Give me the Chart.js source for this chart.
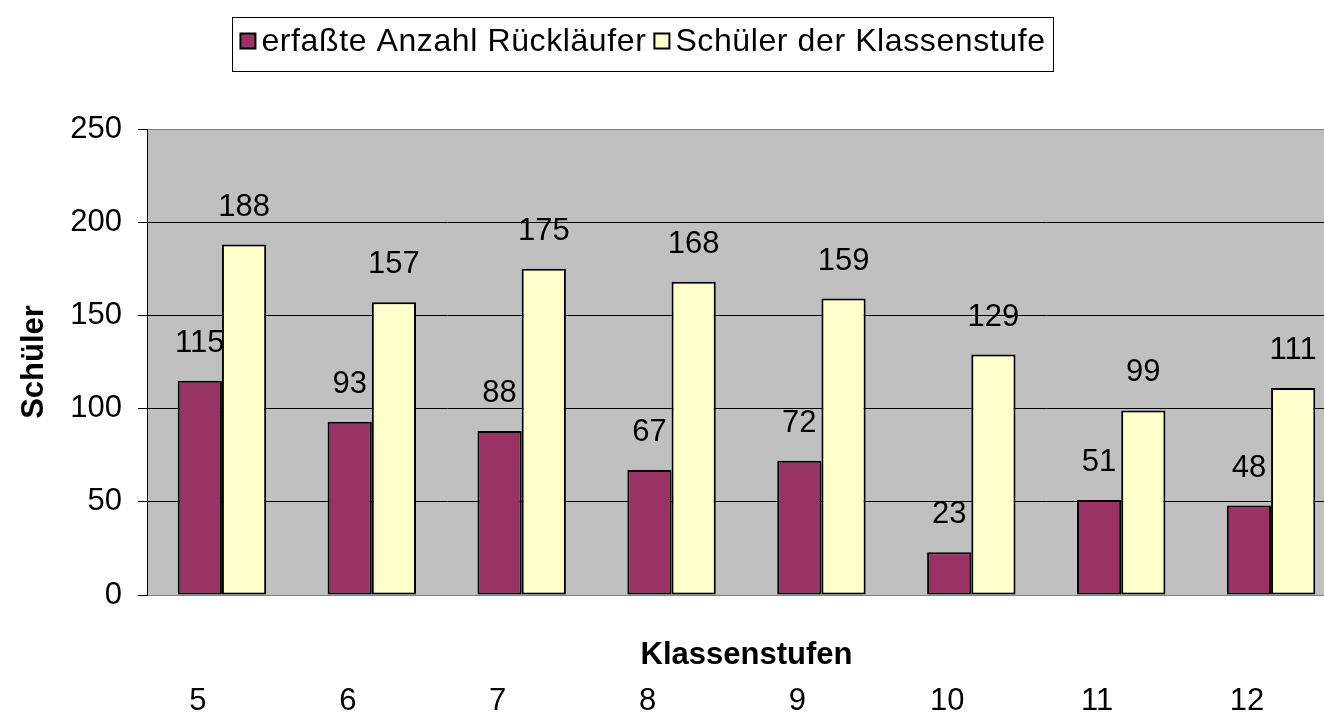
<!DOCTYPE html>
<html lang="de">
<head>
    <meta charset="UTF-8">
    <title>Rückläufer je Klassenstufe</title>
    <script src="https://cdn.jsdelivr.net/npm/chart.js"></script>
    <style>
        * {
            margin: 0;
            padding: 0;
            box-sizing: border-box;
        }

        body {
            background: #fff;
            overflow: hidden;
            width: 1324px;
            height: 717px;
        }

        canvas {
            display: block;
        }
    </style>
</head>
<body>
    <canvas id="chart" width="1346" height="717"></canvas>

    <script>
        // Data
        const klassenstufen = ['5', '6', '7', '8', '9', '10', '11', '12'];
        const ruecklaeufer = [115, 93, 88, 67, 72, 23, 51, 48];
        const schueler = [188, 157, 175, 168, 159, 129, 99, 111];
        const yTicks = [0, 50, 100, 150, 200, 250];

        const seriesNames = ['erfaßte Anzahl Rückläufer', 'Schüler der Klassenstufe'];
        const seriesColors = ['#993366', '#FFFFCC'];

        const FONT = '"Liberation Sans", Arial, sans-serif';

        // Grey plot area like the old Excel charts
        const plotBackground = {
            id: 'plotBackground',
            beforeDraw(chart) {
                const { ctx, chartArea: a } = chart;
                ctx.save();
                ctx.fillStyle = '#C0C0C0';
                ctx.fillRect(a.left, a.top, a.right - a.left, a.bottom - a.top);
                ctx.strokeStyle = '#808080';
                ctx.lineWidth = 1;
                ctx.strokeRect(a.left + 0.5, a.top + 0.5, a.right - a.left, a.bottom - a.top);
                ctx.restore();
            }
        };

        // Value labels above the bars
        function drawValues(chart, index) {
            const ctx = chart.ctx;
            const meta = chart.getDatasetMeta(index);
            const values = chart.data.datasets[index].data;
            ctx.save();
            ctx.font = '31px ' + FONT;
            ctx.fillStyle = '#000';
            ctx.textAlign = 'center';
            ctx.textBaseline = 'alphabetic';
            meta.data.forEach((bar, i) => {
                ctx.fillText(String(values[i]), bar.x, bar.y - 29);
            });
            ctx.restore();
        }

        const valueLabels = {
            id: 'valueLabels',
            // first series labels sit behind the neighbouring bars
            beforeDatasetsDraw(chart) {
                drawValues(chart, 0);
            },
            afterDatasetsDraw(chart) {
                drawValues(chart, 1);
            }
        };

        // Boxed legend at the top
        const boxLegend = {
            id: 'boxLegend',
            afterDraw(chart) {
                const ctx = chart.ctx;
                const sw = 15, gapText = 6, gapItem = 8, pad = 8;
                ctx.save();
                ctx.font = '32px ' + FONT;
                ctx.letterSpacing = '0.6px';
                const widths = seriesNames.map(n => ctx.measureText(n).width);
                let total = 0;
                widths.forEach((w, i) => {
                    total += sw + gapText + w + (i < widths.length - 1 ? gapItem : 0);
                });
                const boxW = total + pad * 2;
                const left = 643 - boxW / 2;
                const top = 17, height = 54;

                ctx.strokeStyle = '#000';
                ctx.lineWidth = 1;
                ctx.strokeRect(Math.round(left) + 0.5, top + 0.5, Math.round(boxW), height);

                let x = left + pad;
                const cy = 41;
                ctx.textBaseline = 'middle';
                ctx.textAlign = 'left';
                seriesNames.forEach((name, i) => {
                    ctx.fillStyle = seriesColors[i];
                    ctx.fillRect(x, cy - sw / 2, sw, sw);
                    ctx.lineWidth = 2;
                    ctx.strokeRect(x, cy - sw / 2, sw, sw);
                    x += sw + gapText;
                    ctx.fillStyle = '#000';
                    ctx.fillText(name, x, cy + 1);
                    x += widths[i] + gapItem;
                });
                ctx.restore();
            }
        };

        const ctx = document.getElementById('chart').getContext('2d');

        new Chart(ctx, {
            type: 'bar',
            data: {
                labels: klassenstufen,
                datasets: [
                    {
                        label: seriesNames[0],
                        data: ruecklaeufer,
                        backgroundColor: seriesColors[0],
                        borderColor: '#000',
                        borderWidth: 2,
                        borderSkipped: false
                    },
                    {
                        label: seriesNames[1],
                        data: schueler,
                        backgroundColor: seriesColors[1],
                        borderColor: '#000',
                        borderWidth: 2,
                        borderSkipped: false
                    }
                ]
            },
            options: {
                responsive: false,
                animation: false,
                devicePixelRatio: 1,
                layout: {
                    padding: { top: 129, left: 0, right: 0, bottom: 0 }
                },
                datasets: {
                    bar: {
                        categoryPercentage: 0.59,
                        barPercentage: 1
                    }
                },
                scales: {
                    // axis title sits between the plot and the tick labels
                    xt: {
                        type: 'category',
                        position: 'bottom',
                        weight: 0,
                        grid: { display: false, drawTicks: false },
                        border: { display: false },
                        ticks: { display: false },
                        title: {
                            display: true,
                            text: 'Klassenstufen',
                            color: '#000',
                            font: { family: FONT, size: 31, weight: 'bold' },
                            padding: { top: 0, bottom: 1 }
                        },
                        afterFit(scale) {
                            scale.height = 80;
                        }
                    },
                    x: {
                        position: 'bottom',
                        weight: 1,
                        grid: { display: false, drawTicks: false },
                        border: { display: false },
                        ticks: {
                            color: '#000',
                            font: { family: FONT, size: 31 },
                            padding: 8,
                            labelOffset: -24,
                            maxRotation: 0
                        },
                        afterFit(scale) {
                            scale.height = 42;
                        }
                    },
                    y: {
                        min: 0,
                        max: 250,
                        afterBuildTicks(scale) {
                            scale.ticks = yTicks.map(v => ({ value: v }));
                        },
                        grid: {
                            color: c => (c.tick && (c.tick.value === 0 || c.tick.value === 250)) ? '#808080' : '#000',
                            tickColor: '#000',
                            tickLength: 9,
                            lineWidth: 1
                        },
                        border: { display: true, color: '#000', width: 1 },
                        ticks: {
                            color: '#000',
                            font: { family: FONT, size: 31 },
                            padding: 16
                        },
                        title: {
                            display: true,
                            text: 'Schüler',
                            color: '#000',
                            font: { family: FONT, size: 31, weight: 'bold' },
                            padding: { top: 16, bottom: 0 }
                        },
                        afterFit(scale) {
                            scale.width = 147;
                        }
                    }
                },
                plugins: {
                    legend: { display: false },
                    tooltip: { enabled: false }
                }
            },
            plugins: [plotBackground, valueLabels, boxLegend]
        });
    </script>
</body>
</html>
